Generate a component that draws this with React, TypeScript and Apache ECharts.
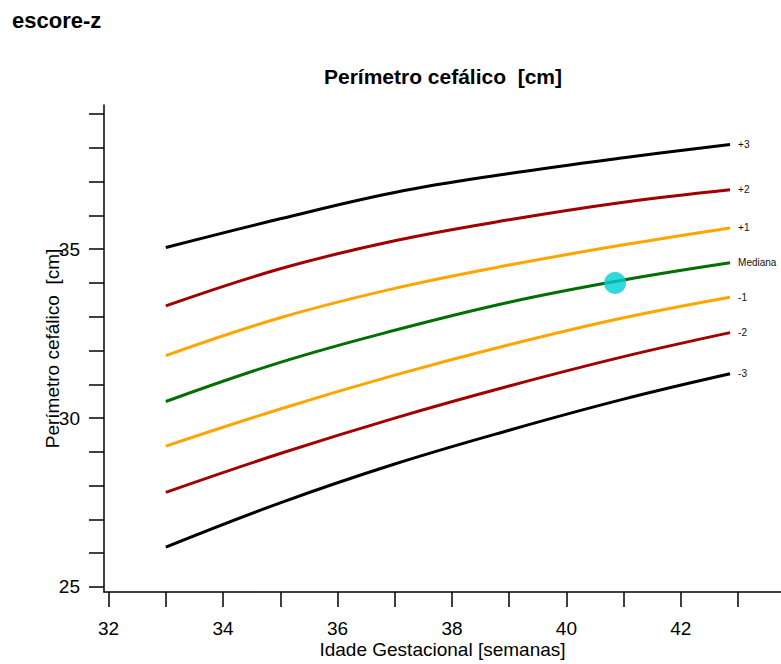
import React, { useEffect, useRef } from "react";
import * as echarts from "echarts";

const weeks = [33, 35, 37, 39, 41, 42.86];
const zPlus3 = [35.05, 35.9, 36.68, 37.24, 37.71, 38.1];
const zPlus2 = [33.32, 34.42, 35.25, 35.87, 36.39, 36.76];
const zPlus1 = [31.85, 32.97, 33.84, 34.53, 35.13, 35.63];
const zMedian = [30.49, 31.65, 32.6, 33.43, 34.09, 34.6];
const zMinus1 = [29.17, 30.27, 31.27, 32.17, 32.97, 33.58];
const zMinus2 = [27.8, 28.95, 30.0, 30.95, 31.82, 32.53];
const zMinus3 = [26.18, 27.49, 28.64, 29.64, 30.56, 31.31];

const curveNames = ["+3", "+2", "+1", "Mediana", "-1", "-2", "-3"];
const curveValues = [zPlus3, zPlus2, zPlus1, zMedian, zMinus1, zMinus2, zMinus3];
const curveColors = ["#000000", "#A00000", "#FFA500", "#006E00", "#FFA500", "#A00000", "#000000"];

const patientPoint = [40.85, 34.0];

const xTicks = [32, 33, 34, 35, 36, 37, 38, 39, 40, 41, 42, 43];
const xTickLabels = [32, 34, 36, 38, 40, 42];
const yTicks = [25, 26, 27, 28, 29, 30, 31, 32, 33, 34, 35, 36, 37, 38, 39];
const yTickLabels = [25, 30, 35];

const FONT = "'Liberation Sans', Arial, Helvetica, sans-serif";

export default function App() {
  const ref = useRef<HTMLDivElement>(null);

  useEffect(() => {
    if (!ref.current) return;
    const chart = echarts.init(ref.current, null, { renderer: "svg" });

    const lineSeries = curveNames.map((name, i) => ({
      name,
      type: "line",
      data: weeks.map((w, j) => [w, curveValues[i][j]]),
      showSymbol: false,
      smooth: 0.4,
      lineStyle: { color: curveColors[i], width: 3 },
      itemStyle: { color: curveColors[i] },
      endLabel: {
        show: true,
        formatter: name,
        distance: 8,
        fontSize: 10,
        fontFamily: FONT,
        color: "#111",
      },
      z: 2,
      silent: true,
    }));

    chart.setOption({
      animation: false,
      backgroundColor: "#ffffff",
      textStyle: { fontFamily: FONT },
      graphic: [
        {
          type: "text",
          left: 12,
          top: 9,
          style: {
            text: "escore-z",
            font: `bold 22px ${FONT}`,
            fill: "#000",
          },
        },
        {
          type: "text",
          x: 443,
          y: 76,
          style: {
            text: "Perímetro cefálico  [cm]",
            font: `bold 21px ${FONT}`,
            fill: "#000",
            align: "center",
            verticalAlign: "middle",
          },
        },
      ],
      grid: { left: 104, top: 105, right: 0, bottom: 67, containLabel: false },
      xAxis: {
        type: "value",
        min: 31.92,
        max: 43.75,
        name: "Idade Gestacional [semanas]",
        nameLocation: "middle",
        nameGap: 48,
        nameMoveOverlap: false,
        nameTextStyle: { fontSize: 19, color: "#000", fontFamily: FONT },
        axisLine: { show: true, onZero: false, lineStyle: { color: "#000", width: 1.5 } },
        axisTick: {
          show: true,
          length: 15,
          customValues: xTicks,
          lineStyle: { color: "#000", width: 1.5 },
        },
        axisLabel: {
          show: true,
          customValues: xTickLabels,
          margin: 27,
          fontSize: 19,
          color: "#000",
          fontFamily: FONT,
        },
        splitLine: { show: false },
      },
      yAxis: {
        type: "value",
        min: 24.85,
        max: 39.27,
        name: "Perímetro cefálico  [cm]",
        nameLocation: "middle",
        nameGap: 42,
        nameMoveOverlap: false,
        nameTextStyle: { fontSize: 19, color: "#000", fontFamily: FONT },
        axisLine: { show: true, onZero: false, lineStyle: { color: "#000", width: 1.5 } },
        axisTick: {
          show: true,
          length: 15,
          customValues: yTicks,
          lineStyle: { color: "#000", width: 1.5 },
        },
        axisLabel: {
          show: true,
          customValues: yTickLabels,
          margin: 24,
          fontSize: 19,
          color: "#000",
          fontFamily: FONT,
        },
        splitLine: { show: false },
      },
      series: [
        ...lineSeries,
        {
          name: "paciente",
          type: "scatter",
          data: [patientPoint],
          symbolSize: 22,
          itemStyle: { color: "#00CED1" },
          z: 5,
          silent: true,
        },
      ],
    });

    return () => chart.dispose();
  }, []);

  return (
    <div
      ref={ref}
      style={{ position: "fixed", left: 0, top: 0, width: 781, height: 664, background: "#fff" }}
    />
  );
}
